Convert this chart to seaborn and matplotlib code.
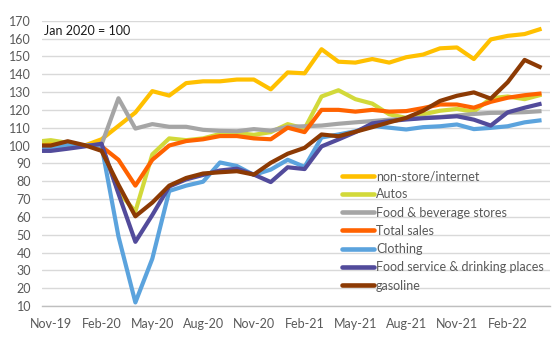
import numpy as np
import pandas as pd
import matplotlib
matplotlib.use("Agg")
import matplotlib.pyplot as plt
from matplotlib.lines import Line2D
import seaborn as sns

# Monthly data, Oct-19 .. Apr-22 (Jan 2020 = 100)
months = pd.date_range("2019-10-01", "2022-04-01", freq="MS")
month_labels = [d.strftime("%b-%y") for d in months]

non_store = [102, 101.5, 101, 100, 103.5, 111, 118.5, 130.5, 128, 135, 136, 136, 137, 137, 131.5,
             141, 140.5, 154, 147, 146.5, 148.5, 146.5, 149.5, 151, 154.5, 155, 148.5, 159.5, 161.5, 162.5, 165.5]
autos = [102, 103, 101.5, 100, 100, 74, 63, 95, 104, 103, 104, 106.5, 107, 106, 107.5,
         112, 109.5, 127.5, 131, 126, 123.5, 117.5, 115.5, 117.5, 119.5, 120.5, 119, 126.5, 127.5, 126, 128.5]
food_bev = [99, 99, 100, 100, 100.5, 126.5, 109.5, 112, 110.5, 110.5, 108.8, 108.2, 108, 109.2, 108.3,
            110.5, 110.8, 111.2, 112.2, 113, 113.7, 114.5, 115, 115.6, 116, 116.8, 117.7, 118.3, 118.4, 118.7, 119.3]
total_sales = [99.5, 99.5, 100.2, 100, 99.5, 92, 77.5, 92, 100, 102.5, 103.5, 105.3, 105.3, 104, 103.5,
               110, 107.5, 120, 120, 119, 120, 119, 119.3, 121, 123, 123, 121.2, 124.5, 126.8, 128.2, 129.2]
clothing = [98, 98.5, 100.5, 100, 100, 49, 12, 36.5, 74.5, 77.5, 79.7, 90.5, 88.5, 83.5, 86.5,
            92, 88, 104.5, 106.2, 108, 111, 110, 109, 110.3, 110.8, 111.8, 109.2, 109.9, 110.8, 113, 114.2]
food_service = [97, 97, 98.2, 99.5, 101, 73, 46, 61, 77, 81, 83.5, 86, 87, 83.7, 79.5,
                87.8, 86.8, 99.5, 103.4, 107.5, 112.4, 113.7, 114.6, 115.3, 115.8, 116.4, 114.5, 111.2, 118.6, 121.2, 123.5]
gasoline = [100, 100, 102.4, 100.2, 97, 78, 60.3, 68, 77.5, 81.8, 84.3, 85, 85.6, 83.7, 90.3,
            95.4, 98.7, 106.2, 105.2, 107.7, 110.3, 113, 115.5, 119.5, 125, 127.9, 129.8, 126.3, 135.5, 148, 143.6]

series_names = ["non-store/internet", "Autos", "Food & beverage stores", "Total sales",
                "Clothing", "Food service & drinking places", "gasoline"]
series_values = [non_store, autos, food_bev, total_sales, clothing, food_service, gasoline]
colors = ["#FFC000", "#D2D93A", "#A5A5A5", "#FF6200", "#5BA3DD", "#524B9B", "#8C3A04"]

idx = np.arange(len(months)) - 1  # Nov-19 at 0
frames = [pd.DataFrame({"idx": idx, "value": v, "series": n}) for n, v in zip(series_names, series_values)]
df = pd.concat(frames, ignore_index=True)

sns.set_theme(style="white")
plt.rcParams['font.family'] = ['Lato', 'DejaVu Sans']

W, H = 557, 343
fig = plt.figure(figsize=(W / 100, H / 100), dpi=100)
ax = fig.add_axes([42.3 / W, 1 - 306 / H, (550 - 42.3) / W, (306 - 20.7) / H])

sns.lineplot(data=df, x="idx", y="value", hue="series", hue_order=series_names,
             palette=colors, linewidth=3, sort=False, legend=False, ax=ax,
             solid_joinstyle="round", solid_capstyle="butt")

ax.set_xlim(-0.5, 29.5)
ax.set_ylim(10, 170)
ax.set_yticks(np.arange(10, 171, 10))
ax.yaxis.grid(True, color="#D9D9D9", linewidth=1)
ax.xaxis.grid(False)
ax.set_axisbelow(True)
for s in ["top", "right", "left"]:
    ax.spines[s].set_visible(False)
ax.spines["bottom"].set_color("#BFBFBF")
ax.spines["bottom"].set_linewidth(1)

ax.set_xticks(np.arange(-0.5, 30, 3))
ax.set_xticklabels([])
ax.set_xticks(np.arange(0, 30, 3), minor=True)
ax.set_xticklabels(month_labels[1::3], minor=True)
ax.tick_params(axis="x", which="major", length=4, color="#BFBFBF", width=1, direction="out")
ax.tick_params(axis="x", which="minor", length=0, pad=9, labelsize=9, labelcolor="#595959")
ax.tick_params(axis="y", length=0, pad=8, labelsize=9, labelcolor="#595959")
ax.set_xlabel("")
ax.set_ylabel("")

handles = [Line2D([], [], color=c, lw=3.3) for c in colors]
fig.legend(handles, series_names, loc="upper left",
           bbox_to_anchor=(341.7 / W, 1 - 170 / H), frameon=False,
           fontsize=9, labelcolor="#595959", handlelength=2.6, handletextpad=0.15,
           labelspacing=0.5, borderpad=0, borderaxespad=0)

fig.text(44 / W, 1 - 30.7 / H, "Jan 2020 = 100", fontsize=9, color="#1a1a1a",
         ha="left", va="center")

fig.savefig("out.png", dpi=100)
